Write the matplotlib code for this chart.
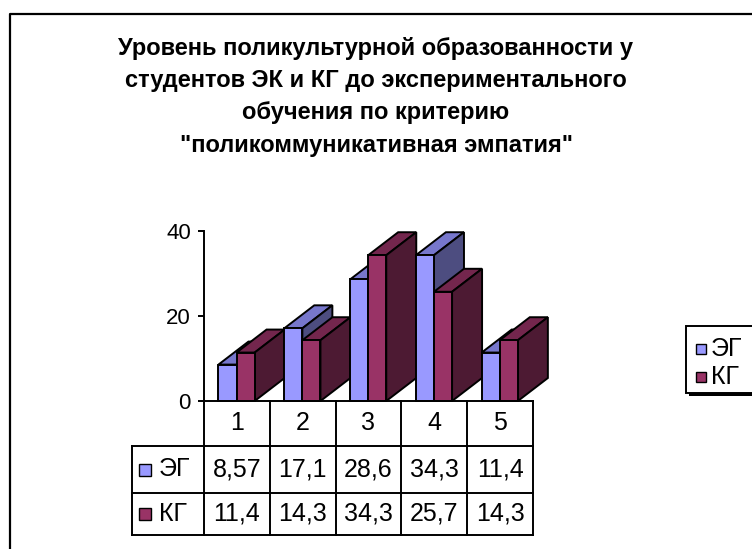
import matplotlib.pyplot as plt
from matplotlib.patches import Polygon, Rectangle

plt.rcParams['font.family'] = ['Liberation Sans', 'DejaVu Sans']

title_lines = [
    "Уровень поликультурной образованности у",
    "студентов ЭК и КГ до экспериментального",
    "обучения по критерию",
    "\"поликоммуникативная эмпатия\"",
]
categories = ["1", "2", "3", "4", "5"]
series_names = ["ЭГ", "КГ"]
eg_values = [8.57, 17.1, 28.6, 34.3, 11.4]
kg_values = [11.4, 14.3, 34.3, 25.7, 14.3]
eg_labels = ["8,57", "17,1", "28,6", "34,3", "11,4"]
kg_labels = ["11,4", "14,3", "34,3", "25,7", "14,3"]
y_ticks = [0, 20, 40]

# front, top and side colours for each series
face_colors = {
    "ЭГ": ("#9999ff", "#7777cc", "#4d4d80"),
    "КГ": ("#993366", "#73264d", "#4d1a33"),
}

W, H = 752, 549
fig = plt.figure(figsize=(W / 100, H / 100), dpi=100)

# pixel-space layer for frame, title, data table and legend
bg = fig.add_axes([0, 0, 1, 1])
bg.set_xlim(0, W)
bg.set_ylim(H, 0)
bg.axis("off")

lw = 1.4
bg.plot([10, 10, W + 5], [H + 5, 14, 14], color="black", lw=1.6, solid_capstyle="projecting")

for i, line in enumerate(title_lines):
    bg.text(376, 48 + i * 32.5, line, ha="center", va="center",
            fontsize=17, fontweight="bold")

# main plot area: x in category units, y in values
x0, x1 = 204, 533
y_zero, y_top = 401, 231
ax = fig.add_axes([x0 / W, (H - y_zero) / H, (x1 - x0) / W, (y_zero - y_top) / H])
ax.set_xlim(0, len(categories))
ax.set_ylim(0, 40)
ax.patch.set_visible(False)
for s in ["top", "right"]:
    ax.spines[s].set_visible(False)
ax.spines["left"].set_linewidth(lw)
ax.spines["bottom"].set_linewidth(lw)
ax.set_xticks([])
ax.set_yticks(y_ticks)
ax.tick_params(axis="y", direction="out", length=4.5, width=lw, labelsize=16, pad=5)

bar_w = 0.275
start = 0.22
depth_x = 30 / ((x1 - x0) / len(categories))
depth_y = 23 / ((y_zero - y_top) / 40)

def draw_bar(xl, h, name):
    front, top, side = face_colors[name]
    xr = xl + bar_w
    ax.add_patch(Polygon([(xl, h), (xr, h), (xr + depth_x, h + depth_y), (xl + depth_x, h + depth_y)],
                         closed=True, fc=top, ec="black", lw=lw, clip_on=False))
    ax.add_patch(Polygon([(xr, 0), (xr + depth_x, depth_y), (xr + depth_x, h + depth_y), (xr, h)],
                         closed=True, fc=side, ec="black", lw=lw, clip_on=False))
    ax.add_patch(Rectangle((xl, 0), bar_w, h, fc=front, ec="black", lw=lw, clip_on=False))

for i in range(len(categories)):
    draw_bar(i + start, eg_values[i], "ЭГ")
    draw_bar(i + start + bar_w, kg_values[i], "КГ")

# data table under the plot
col_w = (x1 - x0) / len(categories)
tab_left = 132
rows_y = [401, 446, 493, 535]
for xb in [x0 + k * col_w for k in range(len(categories) + 1)]:
    bg.plot([xb, xb], [rows_y[0], rows_y[-1]], color="black", lw=lw)
bg.plot([tab_left, tab_left], [rows_y[1], rows_y[-1]], color="black", lw=lw)
for yb in rows_y[1:]:
    bg.plot([tab_left, x1], [yb, yb], color="black", lw=lw)

fs_tab = 18
for k, c in enumerate(categories):
    cx = x0 + (k + 0.5) * col_w
    bg.text(cx, (rows_y[0] + rows_y[1]) / 2, c, ha="center", va="center", fontsize=fs_tab)
    bg.text(cx, (rows_y[1] + rows_y[2]) / 2, eg_labels[k], ha="center", va="center", fontsize=fs_tab)
    bg.text(cx, (rows_y[2] + rows_y[3]) / 2, kg_labels[k], ha="center", va="center", fontsize=fs_tab)

for r, name in enumerate(series_names):
    cy = (rows_y[r + 1] + rows_y[r + 2]) / 2
    bg.add_patch(Rectangle((139, cy - 6), 12, 12, fc=face_colors[name][0], ec="black", lw=1.0))
    bg.text(159, cy, name, ha="left", va="center", fontsize=fs_tab)

# legend box with shadow
bg.add_patch(Rectangle((689, 329), 80, 67, fc="black", ec="none"))
bg.add_patch(Rectangle((686, 326), 80, 67, fc="white", ec="black", lw=lw))
for r, name in enumerate(series_names):
    cy = 349 + r * 28
    bg.add_patch(Rectangle((696, cy - 5), 10, 10, fc=face_colors[name][0], ec="black", lw=1.0))
    bg.text(711, cy, name, ha="left", va="center", fontsize=fs_tab)

fig.savefig("out.png", dpi=100)
